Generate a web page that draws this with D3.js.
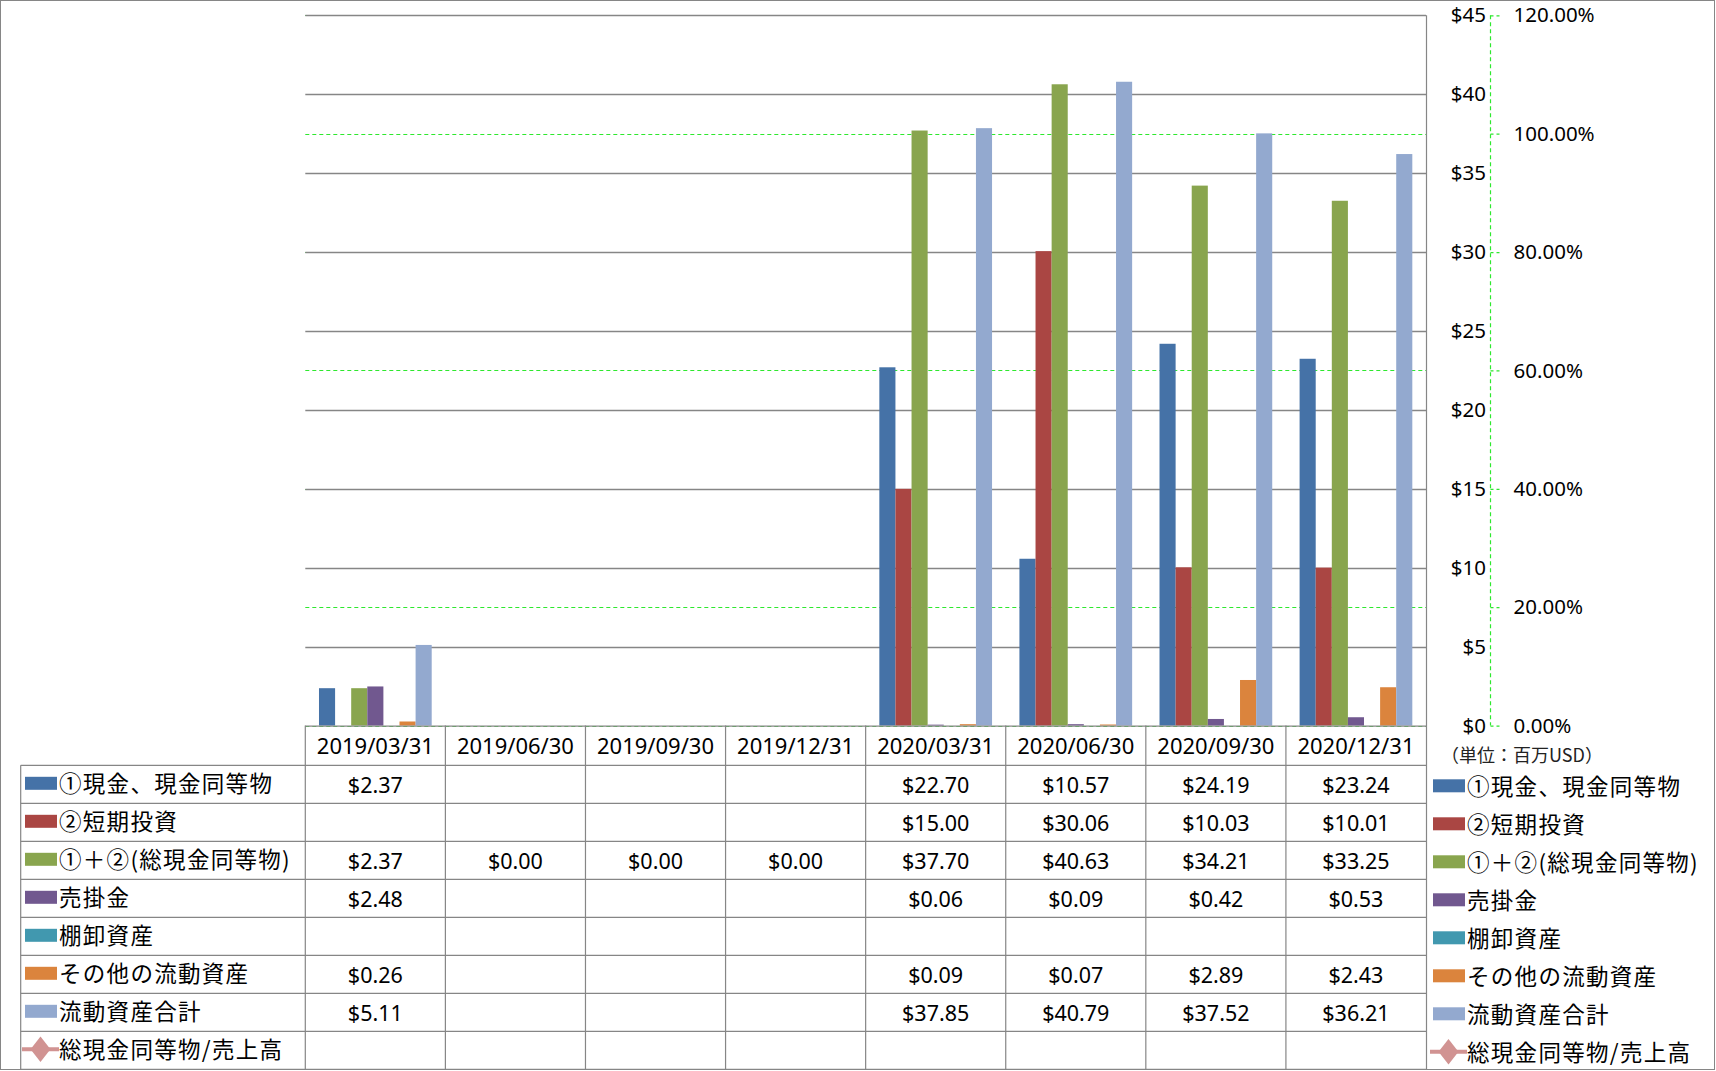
<!DOCTYPE html>
<html><head><meta charset="utf-8">
<script src="https://cdn.jsdelivr.net/npm/d3@7"></script>
<style>
html,body{margin:0;padding:0;background:#fff;}
svg{display:block;}
</style></head>
<body>
<svg id="chart" width="1716" height="1071"></svg>
<script>
const categories = ["2019/03/31","2019/06/30","2019/09/30","2019/12/31","2020/03/31","2020/06/30","2020/09/30","2020/12/31"];
const seriesNames = ["①現金、現金同等物","②短期投資","①＋②(総現金同等物)","売掛金","棚卸資産","その他の流動資産","流動資産合計","総現金同等物/売上高"];
const seriesColors = ["#4572A7","#AA4643","#89A54E","#71588F","#4198AF","#DB843D","#93A9CF","#D19392"];
const cashEq     = [2.37, null, null, null, 22.70, 10.57, 24.19, 23.24];
const shortInv   = [null, null, null, null, 15.00, 30.06, 10.03, 10.01];
const totalCash  = [2.37, 0.00, 0.00, 0.00, 37.70, 40.63, 34.21, 33.25];
const receivable = [2.48, null, null, null, 0.06, 0.09, 0.42, 0.53];
const inventory  = [null, null, null, null, null, null, null, null];
const otherCur   = [0.26, null, null, null, 0.09, 0.07, 2.89, 2.43];
const totalCur   = [5.11, null, null, null, 37.85, 40.79, 37.52, 36.21];
const cashToSales= [null, null, null, null, null, null, null, null];
const leftTicks  = [0,5,10,15,20,25,30,35,40,45];
const rightTicks = [0,0.2,0.4,0.6,0.8,1.0,1.2];
const unitLabel  = "（単位：百万USD）";

const barSeries = [cashEq, shortInv, totalCash, receivable, inventory, otherCur, totalCur];
const allSeries = [cashEq, shortInv, totalCash, receivable, inventory, otherCur, totalCur, cashToSales];

const svg = d3.select("#chart");
const W = 1716, H = 1071;
const plotL = 305.3, plotR = 1426, plotT = 15.3, plotB = 725.6;
const tableL = 20.7, rowH = 38, headerB = 765.3;
const latin = "'Noto Sans','Noto Sans CJK JP',sans-serif";
const cjk = "'Noto Sans CJK JP','Noto Sans',sans-serif";

// outer border
svg.append("rect").attr("x",0.5).attr("y",0.5).attr("width",W-2).attr("height",H-2)
  .attr("fill","#fff").attr("stroke","#868686").attr("stroke-width",1);

const x = d3.scaleBand().domain(categories).range([plotL, plotR]).paddingInner(0).paddingOuter(0);
const xs = d3.scaleBand().domain(d3.range(barSeries.length)).range([0, x.bandwidth()]).paddingInner(0).paddingOuter(0.85);
const y = d3.scaleLinear().domain([0,45]).range([plotB, plotT]);
const y2 = d3.scaleLinear().domain([0,1.2]).range([plotB, plotT]);
const snap = v => Math.round(v)+0.5;

// green dashed secondary gridlines
svg.append("g").selectAll("line").data(rightTicks).join("line")
  .attr("x1",plotL).attr("x2",plotR).attr("y1",d=>snap(y2(d))).attr("y2",d=>snap(y2(d)))
  .attr("stroke","#2EE82E").attr("stroke-width",1.2).attr("stroke-dasharray","4,3");

// gray primary gridlines (drawn on top)
svg.append("g").selectAll("line").data(leftTicks.filter(d=>d>0)).join("line")
  .attr("x1",plotL).attr("x2",plotR).attr("y1",d=>snap(y(d))).attr("y2",d=>snap(y(d)))
  .attr("stroke","#868686").attr("stroke-width",1.3);

// bars
barSeries.forEach((s,si)=>{
  svg.append("g").selectAll("rect").data(s.map((v,i)=>({v,c:categories[i]})).filter(d=>d.v!=null && d.v>0)).join("rect")
    .attr("x",d=>x(d.c)+xs(si)).attr("width",xs.bandwidth())
    .attr("y",d=>y(d.v)).attr("height",d=>plotB-y(d.v))
    .attr("fill",seriesColors[si]);
});

// right border of plot / table
svg.append("line").attr("x1",plotR+0.5).attr("x2",plotR+0.5).attr("y1",plotT).attr("y2",1070)
  .attr("stroke","#868686").attr("stroke-width",1.2);

// primary axis labels (right side)
const yAxis = d3.axisRight(y).tickValues(leftTicks).tickSize(0).tickFormat(d=>"$"+d);
const gy = svg.append("g").attr("transform",`translate(1486,0)`).call(yAxis);
gy.select(".domain").remove();
gy.selectAll("text").attr("x",0).attr("dy","0.32em").attr("text-anchor","end")
  .style("font-family",latin).style("font-size","20.5px").attr("fill","#000");

// secondary axis (green dashed)
const y2Axis = d3.axisRight(y2).tickValues(rightTicks).tickSize(9).tickPadding(14).tickFormat(d=>d3.format(".2f")(d*100)+"%");
const gy2 = svg.append("g").attr("transform",`translate(1490.5,0)`).call(y2Axis);
gy2.select(".domain").attr("stroke","#2EE82E").attr("stroke-width",1.2).attr("stroke-dasharray","4,3").attr("d",`M0,${plotT}V${plotB}`);
gy2.selectAll(".tick line").attr("stroke","#2EE82E").attr("stroke-width",1.2).attr("stroke-dasharray","3,3");
gy2.selectAll("text").attr("fill","#000").style("font-family",latin).style("font-size","20.5px");

// unit label
svg.append("text").attr("x",1441).attr("y",756).attr("dy","0.35em").text(unitLabel)
  .style("font-family",cjk).style("font-size","18px").attr("fill","#222");

// data table
const tg = svg.append("g");
const nRows = allSeries.length;
tg.append("line").attr("x1",plotL).attr("x2",plotR).attr("y1",plotB+0.5).attr("y2",plotB+0.5).attr("stroke","#868686").attr("stroke-width",1.2);
d3.range(nRows+1).forEach(r=>{
  const yy = headerB + r*rowH;
  tg.append("line").attr("x1",tableL).attr("x2",plotR).attr("y1",yy).attr("y2",yy).attr("stroke","#868686").attr("stroke-width",1.2);
});
categories.forEach(c=>{
  tg.append("line").attr("x1",x(c)).attr("x2",x(c)).attr("y1",plotB).attr("y2",1070).attr("stroke","#868686").attr("stroke-width",1.2);
});
tg.append("line").attr("x1",tableL).attr("x2",tableL).attr("y1",headerB).attr("y2",1070).attr("stroke","#868686").attr("stroke-width",1.2);

// header labels
tg.selectAll("text.cat").data(categories).join("text").attr("class","cat")
  .attr("x",d=>x(d)+x.bandwidth()/2).attr("y",(plotB+headerB)/2+1).attr("dy","0.35em")
  .attr("text-anchor","middle").text(d=>d)
  .style("font-family",latin).style("font-size","22px").attr("fill","#000");

// values
allSeries.forEach((s,si)=>{
  const cy = headerB + si*rowH + rowH/2;
  tg.append("g").selectAll("text").data(s.map((v,i)=>({v,c:categories[i]})).filter(d=>d.v!=null)).join("text")
    .attr("x",d=>x(d.c)+x.bandwidth()/2).attr("y",cy+1).attr("dy","0.35em").attr("text-anchor","middle")
    .text(d=>"$"+d.v.toFixed(2))
    .style("font-family",latin).style("font-size","21.5px").attr("fill","#000");
});

// legend keys (in table and on right)
function legendItem(g, x0, cy, si){
  if (si === 7){
    g.append("line").attr("x1",x0-3).attr("x2",x0+34).attr("y1",cy).attr("y2",cy).attr("stroke",seriesColors[si]).attr("stroke-width",4);
    g.append("path").attr("d",d3.symbol(d3.symbolDiamond,260)()).attr("transform",`translate(${x0+15.5},${cy}) scale(1.15,0.85)`)
      .attr("fill",seriesColors[si]);
  } else {
    g.append("rect").attr("x",x0).attr("y",cy-6.5).attr("width",32).attr("height",13).attr("fill",seriesColors[si]);
  }
  g.append("text").attr("x",x0+34).attr("y",cy+1).attr("dy","0.35em").text(seriesNames[si])
    .style("font-family",cjk).style("font-size","22.5px").style("letter-spacing","1.3px").attr("fill","#000");
}
seriesNames.forEach((n,si)=>{
  const cy = headerB + si*rowH + rowH/2 - 1;
  legendItem(tg, 25, cy, si);
  legendItem(svg.append("g"), 1433, cy+2.5, si);
});
</script>
</body></html>
